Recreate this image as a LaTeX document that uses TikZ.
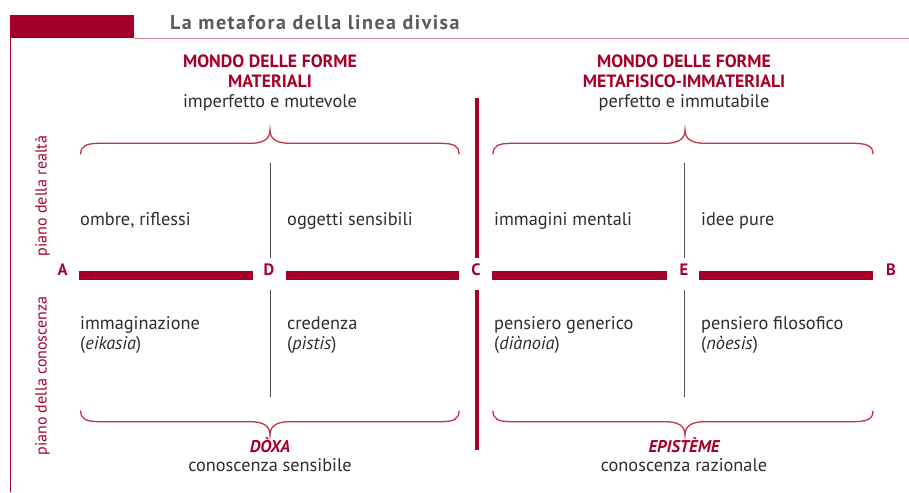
\documentclass[tikz,border=0pt]{standalone}
\usepackage{fontspec}
\setmainfont{PT Sans}
\newfontfamily\titlefont{PT Sans}[LetterSpace=7.5]
\definecolor{lred}{RGB}{166,0,42}
\definecolor{bred}{RGB}{196,50,72}
\definecolor{tgray}{RGB}{45,45,45}
\definecolor{hgray}{RGB}{90,90,90}
\definecolor{pinkline}{RGB}{214,140,155}
\tikzset{
  txt/.style={anchor=base west, inner sep=0pt, text=tgray, font=\fontsize{18.3}{20}\selectfont},
  ctxt/.style={anchor=base, inner sep=0pt, text=tgray, font=\fontsize{18.3}{20}\selectfont},
  head/.style={anchor=base, inner sep=0pt, text=lred, font=\bfseries\fontsize{17.8}{20}\selectfont},
  ehead/.style={anchor=base, inner sep=0pt, text=lred, font=\bfseries\itshape\fontsize{17}{19}\selectfont},
  letter/.style={anchor=base, inner sep=0pt, text=lred, font=\bfseries\fontsize{16.5}{19}\selectfont},
  side/.style={anchor=base, inner sep=0pt, rotate=90, text=lred, font=\fontsize{16}{18}\selectfont},
  bar/.style={draw=lred, line width=9pt},
  mainline/.style={draw=lred, line width=4.3pt},
  thin/.style={draw=hgray!90!black, line width=1pt},
  bracestyle/.style={draw=bred, line width=1.3pt, line cap=round},
}
\begin{document}
\begin{tikzpicture}[x=1pt,y=-1pt]
\useasboundingbox (0,0) rectangle (909,492);
% header
\fill[lred] (9.5,15) rectangle (134,38.5);
\draw[pinkline, line width=1pt] (134,38.5) -- (909,38.5);
\draw[lred, line width=1.4pt] (10.2,38) -- (10.2,492);
\node[anchor=base west, inner sep=0pt, text=hgray, font=\titlefont\bfseries\fontsize{20}{24}\selectfont] (title) at (170,29.3) {La metafora della linea divisa};

% side labels
\node[side] (realta) at (46.5,196) {piano della realtà};
\node[side] (conosc) at (46.5,376) {piano della conoscenza};

% headings
\node[head] (h1a) at (270,68) {MONDO DELLE FORME};
\node[head] (h1b) at (270,88) {MATERIALI};
\node[ctxt] (h1c) at (270,108) {imperfetto e mutevole};
\node[head] (h2a) at (684,68) {MONDO DELLE FORME};
\node[head] (h2b) at (684,88) {METAFISICO-IMMATERIALI};
\node[ctxt] (h2c) at (684,108) {perfetto e immutabile};

% top braces
\draw[bracestyle] (80.7,154) .. controls (80.7,146) and (86,143.3) .. (100,143.3) -- (250,143.3)
  .. controls (262,143.3) and (270,140) .. (270,130)
  .. controls (270,140) and (278,143.3) .. (290,143.3) -- (440,143.3)
  .. controls (454,143.3) and (459,146) .. (459,154);
\draw[bracestyle] (493,154) .. controls (493,146) and (498,143.3) .. (512,143.3) -- (665,143.3)
  .. controls (677,143.3) and (685,140) .. (685,130)
  .. controls (685,140) and (693,143.3) .. (705,143.3) -- (853,143.3)
  .. controls (867,143.3) and (873,146) .. (873,154);
% bottom braces
\draw[bracestyle] (80.7,411) .. controls (80.7,419) and (86,421.7) .. (100,421.7) -- (250,421.7)
  .. controls (262,421.7) and (270,425) .. (270,435)
  .. controls (270,425) and (278,421.7) .. (290,421.7) -- (440,421.7)
  .. controls (454,421.7) and (459,419) .. (459,411);
\draw[bracestyle] (493,411) .. controls (493,419) and (498,421.7) .. (512,421.7) -- (665,421.7)
  .. controls (677,421.7) and (685,425) .. (685,435)
  .. controls (685,425) and (693,421.7) .. (705,421.7) -- (853,421.7)
  .. controls (867,421.7) and (873,419) .. (873,411);

% central red line
\draw[mainline] (477,98) -- (477,258);
\draw[mainline] (477,290) -- (477,450);
% thin gray lines
\draw[thin] (270,163) -- (270,258);
\draw[thin] (270,290) -- (270,397);
\draw[thin] (684,163) -- (684,258);
\draw[thin] (684,290) -- (684,397);

% the divided line
\node[letter] (A) at (62.5,275) {A};
\node[letter] (D) at (269,275) {D};
\node[letter] (C) at (476,275) {C};
\node[letter] (E) at (684,275) {E};
\node[letter] (B) at (891,275) {B};
\draw[bar] (79,275.5) -- (253,275.5);
\draw[bar] (286,275.5) -- (459,275.5);
\draw[bar] (492,275.5) -- (667,275.5);
\draw[bar] (699,275.5) -- (873,275.5);

% upper row
\node[txt] (t1) at (80,225) {ombre, riflessi};
\node[txt] (t2) at (287,225) {oggetti sensibili};
\node[txt] (t3) at (494,225) {immagini mentali};
\node[txt] (t4) at (701,225) {idee pure};
% lower row
\node[txt] (b1) at (80,329) {immaginazione};
\node[txt] (b1i) at (80,349) {(\textit{eikasia})};
\node[txt] (b2) at (287,329) {credenza};
\node[txt] (b2i) at (287,349) {(\textit{pìstis})};
\node[txt] (b3) at (494,329) {pensiero generico};
\node[txt] (b3i) at (494,349) {(\textit{diànoia})};
\node[txt] (b4) at (701,329) {pensiero filosofico};
\node[txt] (b4i) at (701,349) {(\textit{nòesis})};

% bottom labels
\node[ehead] (doxa) at (270,452) {DÒXA};
\node[ctxt] (dsub) at (270,471) {conoscenza sensibile};
\node[ehead] (epi) at (684,452) {EPISTÈME};
\node[ctxt] (esub) at (684,471) {conoscenza razionale};
\end{tikzpicture}
\end{document}
